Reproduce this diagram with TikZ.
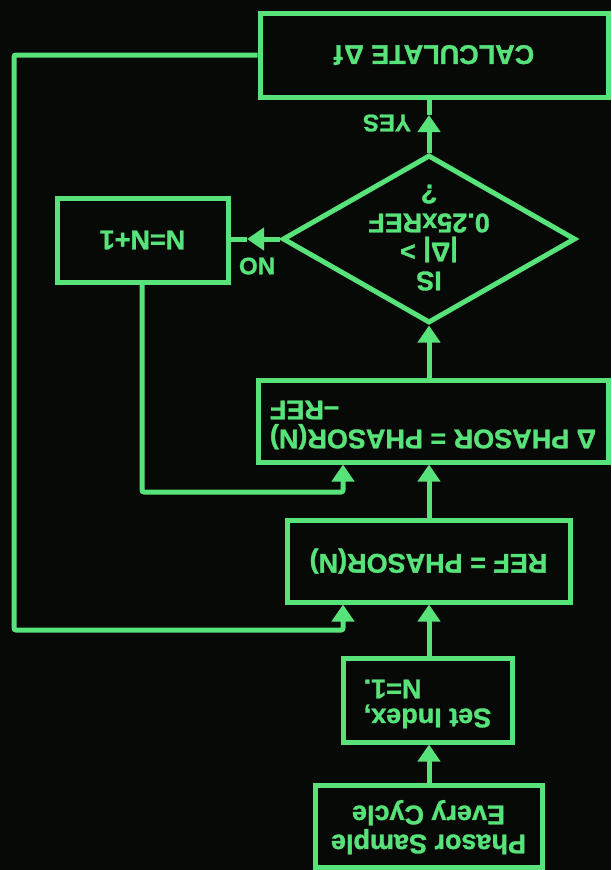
\documentclass[tikz,border=0pt]{standalone}
\usepackage{fontspec}
\setmainfont{Liberation Sans}[BoldFeatures={FakeBold=1.2}]
\usepackage{graphicx}
\usetikzlibrary{arrows.meta,shapes.geometric}
\definecolor{crt}{RGB}{88,226,122}
\definecolor{bgc}{RGB}{6,9,6}
\newcommand{\upd}[1]{\rotatebox{180}{#1}}
\tikzset{
  flow/.style={draw=crt, line width=5pt},
  arr/.style={flow, -{Triangle[width=22pt,length=17pt]}},
  boxnode/.style={draw=crt, line width=5pt, inner sep=0pt, text=crt,
    font=\bfseries\fontsize{27}{29}\selectfont},
  decnode/.style={draw=crt, line width=5pt, diamond, inner sep=0pt},
  txt/.style={text=crt, inner sep=0pt, font=\bfseries\fontsize{27}{29}\selectfont},
  lbl/.style={text=crt, inner sep=0pt, font=\bfseries\fontsize{24}{28}\selectfont}
}
\begin{document}
\begin{tikzpicture}[x=1pt,y=-1pt]
\useasboundingbox (0,0) rectangle (611,870);
\fill[bgc] (0,0) rectangle (611,870);

% boxes
\node[boxnode, minimum width=348pt, minimum height=84pt] (calc) at (434,55) {\upd{CALCULATE Δ\kern1.5pt f}};
\node[decnode, minimum width=293pt, minimum height=168pt] (dec) at (429,239) {};
\node[txt] (dectext) at (429,234) {\upd{\begin{tabular}{@{}c@{}}IS\\|Δ| >\\0.25xREF\\?\end{tabular}}};
\node[boxnode, minimum width=171pt, minimum height=84pt] (inc) at (142.5,240) {\upd{N=N+1}};
\node[boxnode, minimum width=350pt, minimum height=82pt] (delta) at (433,421) {\upd{\begin{tabular}{@{}r@{}}Δ PHASOR = PHASOR(N)\\–REF\end{tabular}}};
\node[boxnode, minimum width=283pt, minimum height=82pt] (ref) at (428.5,561) {\upd{REF = PHASOR(N)}};
\node[boxnode, minimum width=169pt, minimum height=84pt] (set) at (427.5,700) {\upd{\begin{tabular}{@{}r@{}}Set Index,\\N=1.\end{tabular}}};
\node[boxnode, minimum width=227pt, minimum height=82pt] (phasor) at (428.5,826) {\upd{\begin{tabular}{@{}c@{}}Phasor Sample\\Every Cycle\end{tabular}}};

% labels
\node[lbl] (yes) at (387,123) {\upd{YES}};
\node[lbl] (no) at (257,266) {\upd{NO}};

% helper coordinates
\coordinate (axis) at (429,0);
\coordinate (yestip) at (429,115);
\coordinate (notip) at (247,239);
\coordinate (l1) at (14,55);
\coordinate (l2) at (14,630);
\coordinate (l3) at (343,630);
\coordinate (m1) at (142,492);
\coordinate (m2) at (343,492);

% connectors
\draw[arr] (dec.north) -- (yestip);
\draw[flow] (yestip) -- (calc.south -| yestip);
\draw[arr] (dec.west) -- (notip);
\draw[flow] (notip) -- (inc.east |- notip);
\draw[arr] (delta.north -| axis) -- (dec.south);
\draw[arr] (ref.north -| axis) -- (delta.south -| axis);
\draw[arr] (set.north -| axis) -- (ref.south -| axis);
\draw[arr] (phasor.north -| axis) -- (set.south -| axis);
\draw[arr, rounded corners=2pt] (calc.west) -- (l1) -- (l2) -- (l3) -- (ref.south -| l3);
\draw[arr, rounded corners=2pt] (inc.south -| m1) -- (m1) -- (m2) -- (delta.south -| m2);
\end{tikzpicture}
\end{document}
